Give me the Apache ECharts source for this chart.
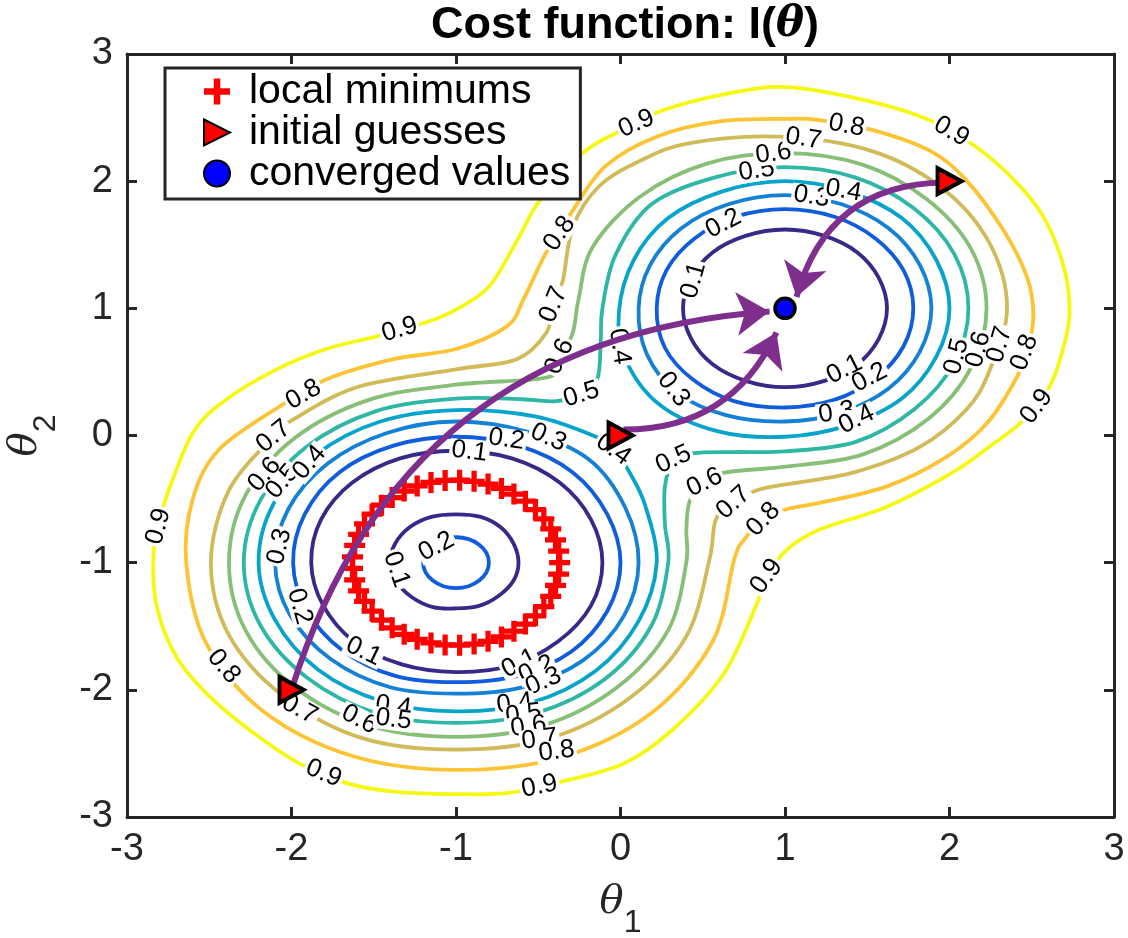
<!DOCTYPE html>
<html><head><meta charset="utf-8">
<script src="https://cdn.jsdelivr.net/npm/echarts@6/dist/echarts.min.js"></script>
<style>html,body{margin:0;padding:0;background:#fff}#c{width:1128px;height:938px}</style>
</head><body><div id="c"></div>
<script>
// ---------------- data ----------------
const tickValues = [-3, -2, -1, 0, 1, 2, 3];
const levelValues = [0.1, 0.2, 0.3, 0.4, 0.5, 0.6, 0.7, 0.8, 0.9];

// contours around the minimum at (1,1)
const contourB01 = [[1.62,1.00],[1.57,1.24],[1.44,1.44],[1.24,1.57],[1.00,1.62],[0.76,1.57],[0.56,1.44],[0.43,1.24],[0.38,1.00],[0.43,0.76],[0.56,0.56],[0.76,0.43],[1.00,0.38],[1.24,0.43],[1.44,0.56],[1.57,0.76]];
const contourB02 = [[1.78,1.00],[1.72,1.30],[1.55,1.55],[1.30,1.72],[1.00,1.78],[0.70,1.72],[0.45,1.55],[0.28,1.30],[0.22,1.00],[0.27,0.69],[0.44,0.44],[0.69,0.27],[1.00,0.22],[1.30,0.28],[1.55,0.45],[1.72,0.70]];
const contourB03 = [[1.89,1.00],[1.82,1.34],[1.63,1.63],[1.34,1.82],[1.00,1.89],[0.66,1.82],[0.37,1.63],[0.18,1.34],[0.11,1.00],[0.16,0.64],[0.34,0.34],[0.64,0.16],[1.00,0.11],[1.34,0.18],[1.63,0.37],[1.82,0.66]];
const contourB04 = [[2.00,1.00],[1.92,1.38],[1.71,1.71],[1.38,1.92],[1.00,2.00],[0.62,1.92],[0.29,1.71],[0.08,1.38],[-0.01,0.97],[0.03,0.60],[0.24,0.24],[0.60,0.03],[1.00,-0.01],[1.38,0.08],[1.71,0.29],[1.92,0.62]];
// contours around the ring of minima centred on (-1,-1)
const contourA01out = [[-0.11,-1.00],[-0.18,-0.66],[-0.37,-0.37],[-0.66,-0.18],[-1.00,-0.12],[-1.34,-0.18],[-1.63,-0.37],[-1.82,-0.66],[-1.88,-1.00],[-1.81,-1.33],[-1.62,-1.62],[-1.33,-1.80],[-1.00,-1.86],[-0.67,-1.81],[-0.38,-1.62],[-0.18,-1.34]];
const contourA02out = [[0.00,-1.00],[-0.08,-0.62],[-0.29,-0.29],[-0.62,-0.08],[-1.00,-0.01],[-1.38,-0.08],[-1.71,-0.29],[-1.92,-0.62],[-1.99,-1.00],[-1.91,-1.37],[-1.69,-1.69],[-1.37,-1.89],[-1.00,-1.94],[-0.63,-1.89],[-0.30,-1.70],[-0.08,-1.38]];
const contourA03out = [[0.11,-1.00],[0.03,-0.57],[-0.19,-0.19],[-0.57,0.03],[-1.00,0.11],[-1.42,0.02],[-1.78,-0.22],[-2.02,-0.58],[-2.10,-1.00],[-2.01,-1.41],[-1.76,-1.76],[-1.40,-1.98],[-1.00,-2.03],[-0.60,-1.98],[-0.23,-1.77],[0.02,-1.42]];
const contourA04out = [[0.22,-1.00],[0.15,-0.55],[0.055,-0.29],[-0.04,-0.11],[-0.15,-0.01],[-0.52,0.15],[-1.00,0.20],[-1.46,0.11],[-1.85,-0.15],[-2.11,-0.54],[-2.20,-1.00],[-2.10,-1.45],[-1.84,-1.84],[-1.45,-2.09],[-1.00,-2.17],[-0.54,-2.10],[-0.15,-1.85],[0.11,-1.46]];
const contourA01in = [[-0.62,-1.00],[-0.65,-0.85],[-0.73,-0.72],[-0.85,-0.64],[-1.00,-0.62],[-1.15,-0.64],[-1.28,-0.72],[-1.37,-0.85],[-1.40,-1.00],[-1.36,-1.15],[-1.27,-1.27],[-1.14,-1.35],[-1.00,-1.36],[-0.86,-1.34],[-0.74,-1.26],[-0.65,-1.14]];
const contourA02in = [[-0.80,-1.00],[-0.815,-0.923],[-0.859,-0.859],[-0.923,-0.815],[-1.00,-0.80],[-1.077,-0.815],[-1.141,-0.859],[-1.185,-0.923],[-1.20,-1.00],[-1.185,-1.077],[-1.141,-1.141],[-1.077,-1.185],[-1.00,-1.20],[-0.923,-1.185],[-0.859,-1.141],[-0.815,-1.077]];
// contours enclosing both basins
const contourM05 = [[-0.12,0.75],[-0.11,1.00],[-0.03,1.42],[0.19,1.82],[0.575,2.03],[1.00,2.11],[1.425,2.03],[1.785,1.785],[2.03,1.425],[2.115,1.00],[2.03,0.575],[1.79,0.21],[1.43,-0.05],[1.00,-0.125],[0.70,-0.13],[0.44,-0.14],[0.32,-0.21],[0.27,-0.40],[0.27,-0.70],[0.29,-1.00],[0.19,-1.49],[-0.09,-1.91],[-0.51,-2.18],[-1.00,-2.26],[-1.49,-2.18],[-1.905,-1.905],[-2.19,-1.49],[-2.29,-1.00],[-2.19,-0.51],[-1.91,-0.09],[-1.49,0.19],[-1.00,0.29],[-0.60,0.285],[-0.39,0.27],[-0.24,0.33],[-0.14,0.45]];
const contourM06 = [[-0.255,1.07],[-0.17,1.48],[0.12,1.88],[0.53,2.14],[1.00,2.22],[1.47,2.13],[1.86,1.86],[2.13,1.47],[2.225,1.00],[2.13,0.53],[1.87,0.13],[1.47,-0.15],[1.00,-0.245],[0.64,-0.29],[0.51,-0.37],[0.42,-0.52],[0.40,-0.75],[0.40,-1.00],[0.29,-1.53],[-0.02,-1.98],[-0.47,-2.28],[-1.00,-2.37],[-1.53,-2.28],[-1.98,-1.98],[-2.28,-1.53],[-2.38,-1.00],[-2.28,-0.47],[-1.98,-0.02],[-1.53,0.28],[-1.00,0.40],[-0.45,0.456],[-0.37,0.60],[-0.29,0.81]];
const contourM07 = [[-0.41,1.03],[-0.35,1.22],[-0.29,1.64],[-0.13,1.96],[0.12,2.16],[0.42,2.30],[0.96,2.35],[1.52,2.24],[1.95,1.95],[2.24,1.52],[2.35,1.00],[2.24,0.50],[2.10,0.20],[1.82,-0.09],[1.42,-0.29],[1.00,-0.385],[0.83,-0.43],[0.69,-0.53],[0.58,-0.66],[0.54,-0.98],[0.40,-1.58],[0.06,-2.06],[-0.43,-2.38],[-1.00,-2.47],[-1.57,-2.38],[-2.05,-2.05],[-2.38,-1.57],[-2.49,-1.00],[-2.38,-0.43],[-2.11,-0.01],[-1.97,0.14],[-1.59,0.385],[-1.00,0.52],[-0.63,0.60],[-0.45,0.81]];
const contourM08 = [[-1.00,0.68],[-0.69,0.86],[-0.59,1.07],[-0.46,1.42],[-0.37,1.59],[-0.29,1.77],[-0.09,2.12],[0.22,2.35],[0.60,2.47],[1.01,2.49],[1.21,2.48],[1.54,2.40],[1.88,2.24],[2.10,2.01],[2.33,1.61],[2.47,1.25],[2.51,0.96],[2.48,0.70],[2.41,0.46],[2.23,0.10],[1.98,-0.17],[1.62,-0.40],[1.21,-0.53],[1.01,-0.58],[0.87,-0.66],[0.75,-0.82],[0.69,-0.98],[0.56,-1.62],[0.19,-2.18],[-0.36,-2.53],[-1.00,-2.63],[-1.63,-2.52],[-2.17,-2.17],[-2.52,-1.63],[-2.64,-1.00],[-2.60,-0.50],[-2.44,-0.11],[-2.07,0.23],[-1.79,0.44],[-1.38,0.60]];
const contourM09 = [[0.24,2.55],[0.62,2.68],[1.01,2.74],[1.51,2.63],[1.88,2.48],[2.15,2.28],[2.40,2.00],[2.58,1.70],[2.70,1.30],[2.73,0.96],[2.69,0.68],[2.61,0.39],[2.45,0.12],[2.25,-0.08],[2.02,-0.29],[1.62,-0.56],[1.21,-0.74],[1.01,-0.90],[0.89,-1.11],[0.83,-1.32],[0.63,-1.87],[0.32,-2.31],[0.02,-2.58],[-0.35,-2.72],[-0.68,-2.81],[-1.00,-2.82],[-1.38,-2.80],[-1.65,-2.74],[-1.95,-2.58],[-2.23,-2.34],[-2.50,-2.05],[-2.70,-1.74],[-2.82,-1.34],[-2.84,-0.95],[-2.81,-0.72],[-2.76,-0.48],[-2.60,0.02],[-2.40,0.28],[-2.09,0.52],[-1.79,0.68],[-1.48,0.78],[-1.18,0.89],[-1.00,0.99],[-0.80,1.17],[-0.63,1.53],[-0.49,1.85],[-0.23,2.22],[-0.04,2.37],[0.10,2.45]];

// contour labels: [theta1, theta2, text]
const contourLabels = [
 [0.097,2.453,'0.9'],[-0.371,1.588,'0.8'],[-0.407,1.030,'0.7'],[-0.371,0.621,'0.6'],[-0.237,0.322,'0.5'],
 [-0.006,0.700,'0.4'],[0.322,0.362,'0.3'],[0.444,1.219,'0.1'],[0.626,1.667,'0.2'],[0.827,2.083,'0.5'],
 [0.930,2.217,'0.6'],[1.112,2.335,'0.7'],[1.374,2.437,'0.8'],[1.161,1.879,'0.3'],[1.356,1.926,'0.4'],
 [2.012,2.390,'0.9'],[1.362,0.519,'0.1'],[1.514,0.456,'0.2'],[1.313,0.181,'0.3'],[1.435,0.126,'0.4'],
 [2.043,0.621,'0.5'],[2.176,0.676,'0.6'],[2.304,0.715,'0.7'],[2.456,0.653,'0.8'],[2.529,0.228,'0.9'],
 [0.322,-0.189,'0.5'],[0.511,-0.369,'0.6'],[0.687,-0.527,'0.7'],[0.869,-0.660,'0.8'],[0.888,-1.108,'0.9'],
 [-0.043,-0.110,'0.4'],[-0.438,-0.016,'0.3'],[-0.693,-0.031,'0.2'],[-0.918,-0.126,'0.1'],[-1.343,0.833,'0.9'],
 [-1.927,0.322,'0.8'],[-2.109,-0.008,'0.7'],[-2.164,-0.307,'0.6'],[-2.055,-0.362,'0.5'],[-1.891,-0.212,'0.4'],
 [-2.809,-0.715,'0.9'],[-2.073,-0.873,'0.3'],[-1.951,-1.344,'0.2'],[-1.562,-1.698,'0.1'],[-2.413,-1.816,'0.8'],
 [-1.951,-2.154,'0.7'],[-1.587,-2.233,'0.6'],[-1.380,-2.130,'0.4'],[-1.380,-2.233,'0.5'],[-1.805,-2.657,'0.9'],
 [-1.119,-0.873,'0.2'],[-1.362,-1.054,'0.1'],
 [-0.614,-1.792,'0.1'],[-0.511,-1.840,'0.2'],[-0.468,-1.934,'0.3'],[-0.644,-2.107,'0.4'],[-0.590,-2.193,'0.5'],
 [-0.559,-2.288,'0.6'],[-0.492,-2.390,'0.7'],[-0.389,-2.484,'0.8'],[-0.492,-2.759,'0.9']
];

const localMinimums = [[-0.37,-1.00],[-0.376,-0.910],[-0.395,-0.821],[-0.424,-0.735],[-0.466,-0.656],[-0.517,-0.582],[-0.578,-0.517],[-0.648,-0.461],[-0.724,-0.416],[-0.805,-0.382],[-0.890,-0.360],[-0.978,-0.351],[-1.066,-0.353],[-1.152,-0.369],[-1.236,-0.397],[-1.315,-0.437],[-1.388,-0.488],[-1.453,-0.548],[-1.510,-0.618],[-1.556,-0.695],[-1.592,-0.778],[-1.616,-0.865],[-1.629,-0.955],[-1.629,-1.045],[-1.616,-1.135],[-1.592,-1.222],[-1.556,-1.305],[-1.510,-1.382],[-1.453,-1.452],[-1.388,-1.512],[-1.315,-1.563],[-1.236,-1.603],[-1.152,-1.631],[-1.066,-1.647],[-0.978,-1.649],[-0.890,-1.640],[-0.805,-1.618],[-0.724,-1.584],[-0.648,-1.539],[-0.578,-1.483],[-0.517,-1.418],[-0.466,-1.345],[-0.424,-1.265],[-0.395,-1.179],[-0.376,-1.090],[1.00,1.00]];
const initialGuesses = [[-2,-2],[0,0],[2,2]];
const convergedValues = [[1,1]];
// descent paths: [start, arrow tip]
const descentPaths = [
  [[-2.00,-2.00],[0.906,0.975]],
  [[0.018,0.047],[0.948,0.810]],
  [[1.97,1.99],[1.070,1.090]]
];

// ---------------- styling ----------------
const levelColors = ['#352a87','#0f5cdd','#1481d6','#06a4ca','#2eb7a4','#87bf77','#d1bb59','#fcc435','#f5f912'];
const pathCurveness = [0.34, -0.32, -0.376];
const contours = [
  [0.1,contourB01],[0.2,contourB02],[0.3,contourB03],[0.4,contourB04],
  [0.1,contourA01out],[0.2,contourA02out],[0.3,contourA03out],[0.4,contourA04out],
  [0.1,contourA01in],[0.2,contourA02in],
  [0.5,contourM05],[0.6,contourM06],[0.7,contourM07],[0.8,contourM08],[0.9,contourM09]
].map(([lv, pts]) => ({level: lv, pts: pts}));

const plusPath = 'path://M3.75,0h2.5v3.75h3.75v2.5h-3.75v3.75h-2.5v-3.75h-3.75v-2.5h3.75z';
const triPath = 'path://M0,0L10,5L0,10Z';
const AX = '#262626';
const FONT = 'Liberation Sans, Arial, Helvetica, sans-serif';

const chart = echarts.init(document.getElementById('c'), null, {renderer: 'canvas'});

function axisCommon(showLabel) {
  return {
    type: 'value', min: tickValues[0], max: tickValues[tickValues.length-1], interval: 1,
    axisLine: {show: true, onZero: false, lineStyle: {color: AX, width: 3}},
    axisTick: {show: true, inside: true, length: 10, lineStyle: {color: AX, width: 3}},
    axisLabel: {show: showLabel, fontSize: 38, color: AX, fontFamily: FONT},
    splitLine: {show: false}
  };
}

// each contour is drawn as a closed smooth curve through its read points
function renderContour(params, api) {
  const c = contours[params.dataIndex];
  const P = c.pts.map(q => api.coord(q));
  const n = P.length;
  let d = 'M' + P[0][0] + ',' + P[0][1];
  for (let i = 0; i < n; i++) {
    const p0 = P[(i - 1 + n) % n], p1 = P[i], p2 = P[(i + 1) % n], p3 = P[(i + 2) % n];
    const c1 = [p1[0] + (p2[0] - p0[0]) / 6, p1[1] + (p2[1] - p0[1]) / 6];
    const c2 = [p2[0] - (p3[0] - p1[0]) / 6, p2[1] - (p3[1] - p1[1]) / 6];
    d += 'C' + c1[0] + ',' + c1[1] + ' ' + c2[0] + ',' + c2[1] + ' ' + p2[0] + ',' + p2[1];
  }
  d += 'Z';
  return {
    type: 'path', shape: {pathData: d},
    style: {fill: 'none', stroke: levelColors[levelValues.indexOf(c.level)], lineWidth: 3.8}
  };
}

function buildOption(labelRot) {
  return {
    animation: false,
    backgroundColor: '#fff',
    title: {
      text: '{b|Cost function: I(}{i|θ}{b|)}',
      left: 620, top: -2, textAlign: 'center',
      textStyle: {rich: {
        b: {fontFamily: FONT, fontWeight: 'bold', fontSize: 45, color: '#000'},
        i: {fontFamily: 'DejaVu Serif', fontStyle: 'italic', fontSize: 42, color: '#000'}
      }}
    },
    legend: {
      data: ['local minimums', 'initial guesses', 'converged values'],
      orient: 'vertical', left: 165, top: 68,
      padding: [3, 10, 5, 38], itemGap: 0, itemWidth: 26, itemHeight: 26,
      backgroundColor: '#fff', borderColor: AX, borderWidth: 3, borderRadius: 0,
      textStyle: {fontSize: 41, fontFamily: FONT, color: '#000', lineHeight: 40, padding: [0, 0, 0, 14]},
      selectedMode: false
    },
    grid: {left: 127, top: 54, width: 987, height: 763, containLabel: false, outerBoundsMode: 'none'},
    xAxis: [
      Object.assign(axisCommon(true), {position: 'bottom',
        axisLabel: {show: true, fontSize: 38, color: AX, fontFamily: FONT, margin: 14},
        name: '{t|θ}{s|1}', nameLocation: 'middle', nameGap: 50,
        nameTextStyle: {rich: {
          t: {fontFamily: 'DejaVu Serif', fontStyle: 'italic', fontSize: 40, color: AX},
          s: {fontFamily: FONT, fontSize: 32, color: AX, padding: [40, 0, 0, 0]}
        }}}),
      Object.assign(axisCommon(false), {position: 'top'})
    ],
    yAxis: [
      Object.assign(axisCommon(true), {position: 'left',
        axisLabel: {show: true, fontSize: 38, color: AX, fontFamily: FONT, margin: 14},
        name: '{t|θ}{s|2}', nameLocation: 'middle', nameGap: 65,
        nameTextStyle: {rich: {
          t: {fontFamily: 'DejaVu Serif', fontStyle: 'italic', fontSize: 40, color: AX},
          s: {fontFamily: FONT, fontSize: 32, color: AX, padding: [40, 0, 0, 0]}
        }}}),
      Object.assign(axisCommon(false), {position: 'right'})
    ],
    series: [
      {
        type: 'custom', coordinateSystem: 'cartesian2d', silent: true, z: 2,
        renderItem: renderContour,
        data: contours.map(c => c.pts[0])
      },
      {
        type: 'scatter', silent: true, z: 3, symbolSize: 0,
        itemStyle: {color: 'rgba(0,0,0,0)', opacity: 1},
        data: contourLabels.map((l, i) => ({
          value: [l[0], l[1], l[2]],
          label: {show: true, position: 'inside', formatter: l[2], rotate: labelRot ? labelRot[i] : 0,
            fontSize: 26, fontFamily: FONT, color: '#000', backgroundColor: '#fff', opacity: 1,
            padding: [0, 2], lineHeight: 22}
        }))
      },
      {
        name: 'local minimums', type: 'scatter', z: 4, data: localMinimums,
        symbol: plusPath, symbolSize: 21, itemStyle: {color: '#ff0000', opacity: 1}
      },
      {
        type: 'lines', coordinateSystem: 'cartesian2d', z: 5, silent: true,
        symbol: ['none', 'arrow'], symbolSize: [0, 33],
        lineStyle: {color: '#7e2f8e', width: 6, opacity: 1},
        data: descentPaths.map((p, i) => ({coords: p, lineStyle: {curveness: pathCurveness[i]}}))
      },
      {
        name: 'initial guesses', type: 'scatter', z: 6, data: initialGuesses,
        symbol: triPath, symbolSize: [24, 26],
        itemStyle: {color: '#ff0000', borderColor: '#000', borderWidth: 4, opacity: 1}
      },
      {
        name: 'converged values', type: 'scatter', z: 7, data: convergedValues,
        symbol: 'circle', symbolSize: 20,
        itemStyle: {color: '#0000ff', borderColor: '#000', borderWidth: 3.5, opacity: 1}
      }
    ]
  };
}

chart.setOption(buildOption(null));

function labelRotation(l) {
  const lv = parseFloat(l[2]);
  const p = chart.convertToPixel({gridIndex: 0}, [l[0], l[1]]);
  let best = null, bd = Infinity;
  contours.forEach(c => {
    if (Math.abs(c.level - lv) > 1e-6) return;
    const pts = c.pts.map(q => chart.convertToPixel({gridIndex: 0}, q));
    const n = pts.length;
    for (let i = 0; i < n; i++) {
      const a = pts[i], b = pts[(i + 1) % n];
      const dx = b[0]-a[0], dy = b[1]-a[1];
      const L = dx*dx + dy*dy;
      let t = L ? ((p[0]-a[0])*dx + (p[1]-a[1])*dy) / L : 0;
      t = Math.max(0, Math.min(1, t));
      const ex = a[0] + t*dx - p[0], ey = a[1] + t*dy - p[1];
      const d = ex*ex + ey*ey;
      if (d < bd) { bd = d; best = [dx, dy]; }
    }
  });
  if (!best) return 0;
  let ang = Math.atan2(-best[1], best[0]) * 180 / Math.PI;
  if (ang > 90) ang -= 180;
  if (ang <= -90) ang += 180;
  return ang;
}
chart.setOption(buildOption(contourLabels.map(labelRotation)));
</script>
</body></html>
